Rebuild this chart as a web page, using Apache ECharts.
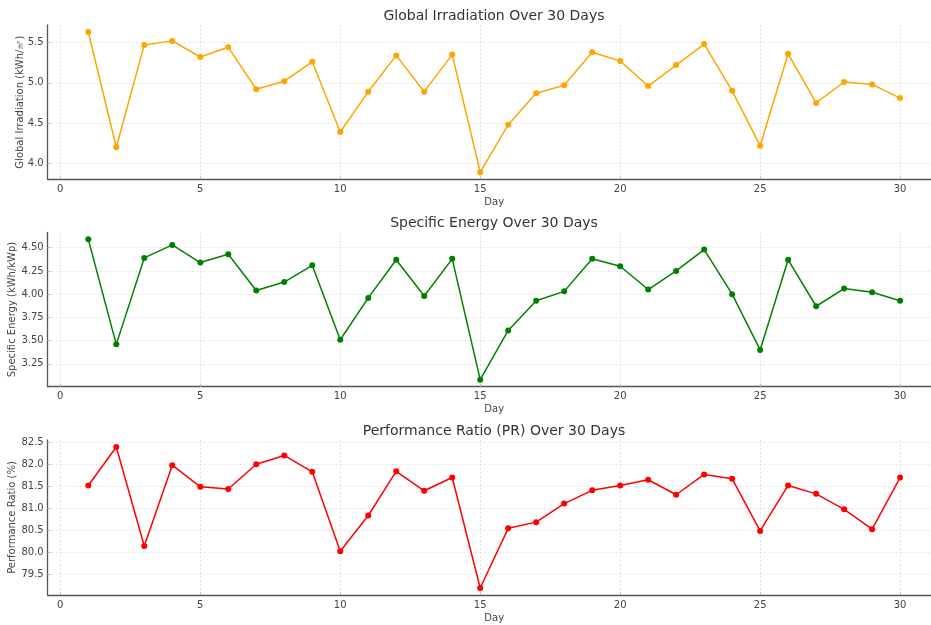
<!DOCTYPE html>
<html>
<head>
<meta charset="utf-8">
<script src="https://cdn.jsdelivr.net/npm/echarts@6/dist/echarts.min.js"></script>
<style>
  html, body { margin: 0; padding: 0; background: #fff; }
  #chart { width: 931px; height: 625px; }
</style>
</head>
<body>
<div id="chart"></div>
<script>
// ---- data ----
const days = [1,2,3,4,5,6,7,8,9,10,11,12,13,14,15,16,17,18,19,20,21,22,23,24,25,26,27,28,29,30];
const irradiation = [5.63,4.20,5.47,5.52,5.32,5.44,4.92,5.02,5.26,4.39,4.89,5.34,4.89,5.35,3.89,4.48,4.87,4.97,5.38,5.27,4.96,5.22,5.48,4.90,4.22,5.36,4.75,5.01,4.98,4.81];
const specificEnergy = [4.59,3.46,4.39,4.53,4.34,4.43,4.04,4.13,4.31,3.51,3.96,4.37,3.98,4.38,3.08,3.61,3.93,4.03,4.38,4.30,4.05,4.25,4.48,4.00,3.40,4.37,3.87,4.06,4.02,3.93];
const performanceRatio = [81.52,82.39,80.15,81.98,81.49,81.44,82.00,82.20,81.83,80.03,80.84,81.84,81.40,81.70,79.20,80.55,80.69,81.11,81.41,81.52,81.65,81.31,81.77,81.67,80.49,81.52,81.33,80.98,80.53,81.70];
const xTicks = [0,5,10,15,20,25,30];
const irrTicks = [4.0,4.5,5.0,5.5];
const seTicks = [3.25,3.50,3.75,4.00,4.25,4.50];
const prTicks = [79.5,80.0,80.5,81.0,81.5,82.0,82.5];
const titles = ['Global Irradiation Over 30 Days','Specific Energy Over 30 Days','Performance Ratio (PR) Over 30 Days'];
const yNames = ['Global Irradiation (kWh/\u33A1)','Specific Energy (kWh/kWp)','Performance Ratio (%)'];
const xName = 'Day';

// ---- helpers ----
function padRange(arr){ // matplotlib-like 5% margins
  const mn = Math.min.apply(null, arr), mx = Math.max.apply(null, arr);
  const m = (mx - mn) * 0.05;
  return [mn - m, mx + m];
}
const xr = padRange(days);
const FONT = 'DejaVu Sans';
const lineCols = ['#FFA500','#008000','#FF0000'];
const seriesData = [irradiation, specificEnergy, performanceRatio];
const yTickSets = [irrTicks, seTicks, prTicks];
const yDecimals = [1,2,1];
const yGaps = [22,30,30];
const grids = [
  {left: 47.7, top: 25, width: 893, height: 154.3, outerBoundsMode: 'none', containLabel: false},
  {left: 47.7, top: 232.3, width: 893, height: 154.4, outerBoundsMode: 'none', containLabel: false},
  {left: 47.7, top: 440, width: 893, height: 155, outerBoundsMode: 'none', containLabel: false}
];
const titleTops = [4, 211, 419];

const option = {
  animation: false,
  backgroundColor: '#fff',
  textStyle: {fontFamily: FONT},
  title: titles.map((t,i)=>({
    text: t, left: 489, top: titleTops[i], textAlign: 'center',
    textStyle: {fontFamily: FONT, fontSize: 14, fontWeight: 'normal', color: '#333'}
  })),
  grid: grids,
  xAxis: grids.map((g,i)=>({
    type: 'value', gridIndex: i, min: xr[0], max: xr[1],
    name: xName, nameLocation: 'middle', nameGap: 18, nameMoveOverlap: false,
    nameTextStyle: {fontFamily: FONT, fontSize: 10, color: '#444'},
    axisLine: {show: true, onZero: false, lineStyle: {color: '#555', width: 1.3}},
    axisTick: {show: true, inside: true, length: 3, customValues: xTicks, lineStyle: {color: '#bbb'}},
    axisLabel: {customValues: xTicks, margin: 5, fontFamily: FONT, fontSize: 10, color: '#444',
      formatter: v => String(Math.round(v))},
    splitLine: {show: true, lineStyle: {color: '#ddd', type: [2,2], width: 0.8}}
  })),
  yAxis: grids.map((g,i)=>{
    const r = padRange(seriesData[i]);
    return {
      type: 'value', gridIndex: i, min: r[0], max: r[1],
      name: yNames[i], nameLocation: 'middle', nameGap: yGaps[i], nameMoveOverlap: false,
      nameTextStyle: {fontFamily: FONT, fontSize: 10, color: '#444'},
      axisLine: {show: true, onZero: false, lineStyle: {color: '#555', width: 1.3}},
      axisTick: {show: true, inside: true, length: 3, customValues: yTickSets[i], lineStyle: {color: '#bbb'}},
      axisLabel: {customValues: yTickSets[i], margin: 4, fontFamily: FONT, fontSize: 10, color: '#444',
        formatter: v => v.toFixed(yDecimals[i])},
      splitLine: {show: true, lineStyle: {color: '#ddd', type: [2,2], width: 0.8}}
    };
  }),
  series: seriesData.map((d,i)=>({
    type: 'line', xAxisIndex: i, yAxisIndex: i,
    data: days.map((x,k)=>[x, d[k]]),
    symbol: 'circle', symbolSize: 6, showSymbol: true,
    lineStyle: {color: lineCols[i], width: 1.5},
    itemStyle: {color: lineCols[i]}
  }))
};
const chart = echarts.init(document.getElementById('chart'), null, {renderer: 'canvas'});
chart.setOption(option);
</script>
</body>
</html>
